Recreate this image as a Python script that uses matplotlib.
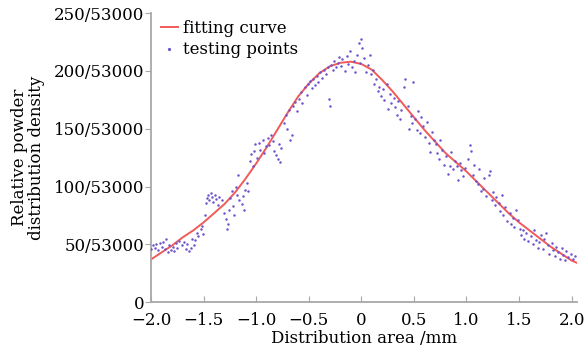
import matplotlib
matplotlib.use("Agg")
import matplotlib.pyplot as plt

plt.rcParams['font.family'] = ['DejaVu Serif']

# fitted curve
curve_x = [-2.0, -1.9, -1.8, -1.7, -1.6, -1.5, -1.4, -1.3, -1.2, -1.1,
           -1.0, -0.9, -0.8, -0.7, -0.6, -0.5, -0.4, -0.3, -0.2, -0.1,
           0.0, 0.1, 0.2, 0.3, 0.4, 0.5, 0.6, 0.7, 0.8, 0.9,
           1.0, 1.1, 1.2, 1.3, 1.4, 1.5, 1.6, 1.7, 1.8, 1.9, 2.0, 2.05]
curve_y = [37, 43, 49, 56, 62, 69, 77, 85, 95, 107,
           120, 134, 149, 164, 178, 189, 198, 204, 207, 208,
           206, 201, 192, 182, 171, 160, 149, 139, 129, 121,
           113, 104, 95, 86, 77, 69, 62, 55, 48, 42, 36, 34]

# testing points (estimated)
pts_x = [-2.0, -1.98, -1.96, -1.95, -1.93, -1.92, -1.90,
         -1.89, -1.87, -1.86, -1.84, -1.83, -1.81,
         -1.79, -1.78, -1.76, -1.75, -1.73, -1.71,
         -1.69, -1.67, -1.66, -1.64, -1.62, -1.61,
         -1.59, -1.58, -1.56, -1.55, -1.53, -1.52, -1.51,
         -1.49, -1.48, -1.47, -1.46, -1.45, -1.43, -1.42, -1.41,
         -1.39, -1.38, -1.36, -1.35, -1.33, -1.31,
         -1.29, -1.28, -1.27, -1.26, -1.25, -1.23, -1.22, -1.21,
         -1.19, -1.18, -1.17, -1.16, -1.14, -1.13, -1.12, -1.11,
         -1.09, -1.08, -1.06, -1.05, -1.03, -1.02, -1.01,
         -0.99, -0.97, -0.96, -0.94, -0.93, -0.91,
         -0.89, -0.88, -0.86, -0.84, -0.83, -0.81,
         -0.79, -0.78, -0.77, -0.76, -0.74, -0.72, -0.71,
         -0.69, -0.68, -0.66, -0.65, -0.63, -0.61,
         -0.59, -0.57, -0.56, -0.54, -0.52, -0.51,
         -0.49, -0.47, -0.46, -0.44, -0.42, -0.41,
         -0.39, -0.37, -0.36, -0.34, -0.32, -0.31, -0.30,
         -0.29, -0.27, -0.26, -0.24, -0.22, -0.21,
         -0.19, -0.18, -0.16, -0.14, -0.13, -0.11,
         -0.09, -0.07, -0.06, -0.04, -0.02, -0.01,
         0.0, 0.01, 0.03, 0.04, 0.06, 0.08, 0.09,
         0.11, 0.12, 0.14, 0.16, 0.17, 0.19,
         0.21, 0.22, 0.24, 0.25, 0.27, 0.28,
         0.31, 0.32, 0.34, 0.35, 0.37, 0.38,
         0.41, 0.42, 0.44, 0.45, 0.47, 0.48, 0.49,
         0.51, 0.53, 0.54, 0.56, 0.57, 0.59,
         0.61, 0.62, 0.64, 0.65, 0.67, 0.69,
         0.71, 0.72, 0.74, 0.75, 0.77, 0.79,
         0.81, 0.82, 0.84, 0.85, 0.87, 0.89,
         0.91, 0.92, 0.94, 0.95, 0.97, 0.99,
         1.01, 1.03, 1.04, 1.06, 1.07, 1.09,
         1.11, 1.12, 1.14, 1.16, 1.17, 1.19,
         1.21, 1.22, 1.24, 1.25, 1.27, 1.28,
         1.31, 1.32, 1.34, 1.35, 1.37, 1.39,
         1.41, 1.42, 1.44, 1.45, 1.47, 1.49,
         1.51, 1.52, 1.54, 1.55, 1.57, 1.59,
         1.61, 1.63, 1.64, 1.66, 1.68, 1.69,
         1.71, 1.73, 1.74, 1.76, 1.78, 1.79,
         1.81, 1.82, 1.84, 1.85, 1.87, 1.89,
         1.91, 1.92, 1.94, 1.95, 1.97, 1.99,
         2.01, 2.03]
pts_y = [46, 49, 47, 50, 45, 51, 48,
         52, 46, 55, 43, 49, 45,
         48, 44, 51, 47, 53, 49,
         52, 46, 50, 44, 47, 55,
         49, 54, 60, 57, 63, 66, 59,
         75, 86, 90, 93, 88, 94, 91, 87,
         93, 89, 84, 91, 88, 77,
         72, 63, 68, 80, 90, 96, 83, 75,
         100, 93, 110, 88, 85, 92, 80, 97,
         103, 96, 122, 128, 118, 131, 137,
         125, 138, 132, 140, 129, 135,
         142, 136, 145, 139, 131, 127,
         124, 137, 121, 133, 155, 162, 150,
         166, 140, 145, 170, 173, 165,
         176, 182, 172, 186, 179, 189,
         191, 185, 193, 188, 196, 190,
         199, 194, 201, 197, 203, 176, 170,
         205, 201, 209, 203, 207, 212,
         204, 210, 200, 213, 206, 217,
         203, 209, 199, 214, 224, 207,
         228, 220, 211, 199, 205, 214, 197,
         201, 189, 193, 183, 186, 178,
         184, 175, 189, 167, 180, 172,
         177, 169, 162, 174, 158, 166,
         186, 193, 170, 150, 161, 155, 190,
         158, 149, 165, 146, 160, 152,
         143, 156, 138, 130, 147, 140,
         137, 129, 124, 140, 132, 119,
         126, 111, 118, 130, 115, 122,
         118, 106, 120, 114, 109, 116,
         124, 136, 131, 110, 119, 105,
         102, 115, 96, 98, 107, 92,
         110, 113, 88, 95, 84, 91,
         86, 79, 93, 75, 82, 70,
         77, 68, 73, 65, 80, 71,
         63, 58, 62, 55, 60, 53,
         57, 50, 62, 54, 47, 52,
         58, 46, 55, 60, 49, 42,
         51, 45, 40, 48, 43, 37,
         47, 41, 36, 44, 39, 42,
         37, 40]

x_ticks = [-2.0, -1.5, -1.0, -0.5, 0, 0.5, 1.0, 1.5, 2.0]
x_tick_labels = ["\u22122.0", "\u22121.5", "\u22121.0", "\u22120.5", "0",
                 "0.5", "1.0", "1.5", "2.0"]
y_ticks = [0, 50, 100, 150, 200, 250]
y_tick_labels = ["0", "50/53000", "100/53000", "150/53000", "200/53000", "250/53000"]

fig = plt.figure(figsize=(5.88, 3.55), dpi=100)
ax = fig.add_axes([0.257, 0.149, 0.724, 0.814])

ax.plot(curve_x, curve_y, color="#f25a5a", lw=1.4, label="fitting curve", zorder=2)
ax.scatter(pts_x, pts_y, s=3.2, color="#6e52cc", linewidths=0,
           label="testing points", zorder=3)

ax.set_xlim(-2.0, 2.05)
ax.set_ylim(0, 250)
ax.set_xticks(x_ticks)
ax.set_xticklabels(x_tick_labels)
ax.set_yticks(y_ticks)
ax.set_yticklabels(y_tick_labels)

for s in ["top", "right"]:
    ax.spines[s].set_visible(False)
for s in ["left", "bottom"]:
    ax.spines[s].set_color("#a8a8a8")
    ax.spines[s].set_linewidth(1.3)
ax.tick_params(axis="x", direction="in", colors="#a8a8a8", labelcolor="black",
               labelsize=12, length=4, pad=7)
ax.tick_params(axis="y", direction="out", colors="#a8a8a8", labelcolor="black",
               labelsize=12, length=4, pad=1)

ax.set_xlabel("Distribution area /mm", fontsize=12, labelpad=1)
ax.set_ylabel("Relative powder\ndistribution density", fontsize=12, labelpad=6,
              linespacing=1.0)

ax.legend(loc="upper left", frameon=False, fontsize=12, handlelength=1.0,
          handletextpad=0.3, labelspacing=0.2, borderaxespad=0.2,
          scatterpoints=1, markerscale=1.3, bbox_to_anchor=(0.0, 1.01))

fig.savefig("out.png", dpi=100)
